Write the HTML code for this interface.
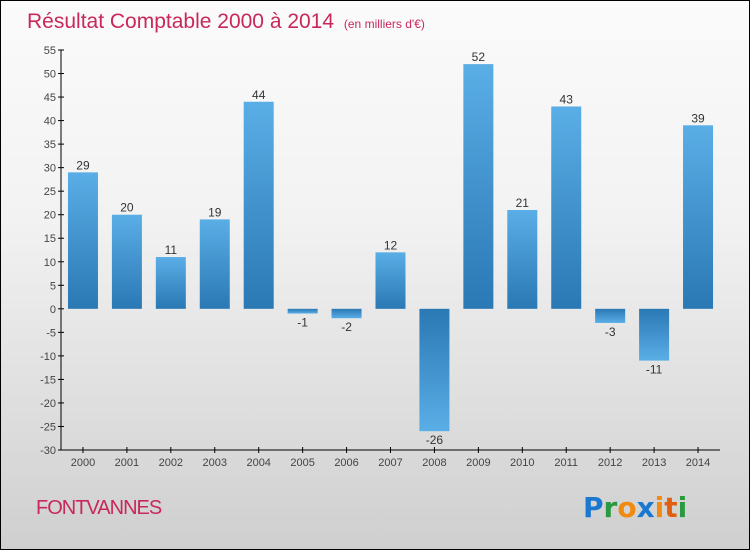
<!DOCTYPE html>
<html><head><meta charset="utf-8"><style>
html,body{margin:0;padding:0}
body{width:750px;height:550px;overflow:hidden;font-family:"Liberation Sans",sans-serif}
#wrap{position:absolute;left:0;top:0;width:748px;height:548px;border:1px solid #000;background:linear-gradient(#fbfbfb,#f2f2f2 40%,#cfcfcf)}
</style></head><body>
<div id="wrap">
<svg id="chart" width="748" height="548">
<defs>
<linearGradient id="gp" x1="0" y1="0" x2="0" y2="1"><stop offset="0" stop-color="#5aaee6"/><stop offset="1" stop-color="#2a78b4"/></linearGradient>
<linearGradient id="gn" x1="0" y1="0" x2="0" y2="1"><stop offset="0" stop-color="#2a78b4"/><stop offset="1" stop-color="#5aaee6"/></linearGradient>
</defs>
<text x="26" y="27" font-size="21" fill="#c8285a">Résultat Comptable 2000 à 2014 <tspan font-size="12" dx="4">(en milliers d'€)</tspan></text>
<text x="35" y="513" font-size="20" fill="#c8285a" letter-spacing="-1">FONTVANNES</text>
<g font-size="28" font-weight="bold" font-family="'DejaVu Sans',sans-serif">
<text x="582" y="516"><tspan fill="#1a78d0">P</tspan><tspan fill="#2a9a40">r</tspan><tspan fill="#f08a10">o</tspan><tspan fill="#1a78d0">x</tspan><tspan fill="#f08a10">i</tspan><tspan fill="#e06010">t</tspan><tspan fill="#2a9a40">i</tspan></text>
</g>
<g id="axes"></g><g id="bars"></g>
</svg></div>
<script>
const years=["2000","2001","2002","2003","2004","2005","2006","2007","2008","2009","2010","2011","2012","2013","2014"];
const values=[29,20,11,19,44,-1,-2,12,-26,52,21,43,-3,-11,39];
const yTicks=[55,50,45,40,35,30,25,20,15,10,5,0,-5,-10,-15,-20,-25,-30];
const NS="http://www.w3.org/2000/svg";
const x0=60,x1=719,yTop=49,yBot=449,vMin=-30,vMax=55;
const y=v=>yBot-(v-vMin)/(vMax-vMin)*(yBot-yTop);
const step=(x1-x0)/years.length;
const xc=i=>x0+step*(i+0.5);
function mk(t,a,p){const e=document.createElementNS(NS,t);for(const k in a)e.setAttribute(k,a[k]);p.appendChild(e);return e;}
const ax=document.getElementById('axes'),bg=document.getElementById('bars');
let l=mk('line',{x1:x0,y1:yTop,x2:x0,y2:yBot,stroke:'#000'},ax);


l=mk('line',{x1:x0,y1:yBot,x2:x1,y2:yBot,stroke:'#000'},ax);


yTicks.forEach(v=>{
 mk('line',{x1:x0-3,y1:y(v),x2:x0+3,y2:y(v),stroke:'#000'},ax);
 const t=mk('text',{x:x0-5,y:y(v)+4,'text-anchor':'end','font-size':11,fill:'#444'},ax);
 t.textContent=v;
 
 
});
years.forEach((yr,i)=>{
 const c=xc(i);
 mk('line',{x1:c,y1:yBot-3,x2:c,y2:yBot+3,stroke:'#000'},ax);
 const t=mk('text',{x:c,y:yBot+16,'text-anchor':'middle','font-size':11,fill:'#444'},ax);
 t.textContent=yr;
 
 
 const v=values[i],top=Math.min(y(v),y(0)),h=Math.abs(y(v)-y(0));
 const r=mk('rect',{x:c-15,y:top,width:30,height:h,fill:v>=0?'url(#gp)':'url(#gn)'},bg);
 
 
 const lb=mk('text',{x:c,y:v>=0?y(v)-3:y(v)+13,'text-anchor':'middle','font-size':12,fill:'#333'},bg);
 lb.textContent=v;
 
 
});
</script>
</body></html>
